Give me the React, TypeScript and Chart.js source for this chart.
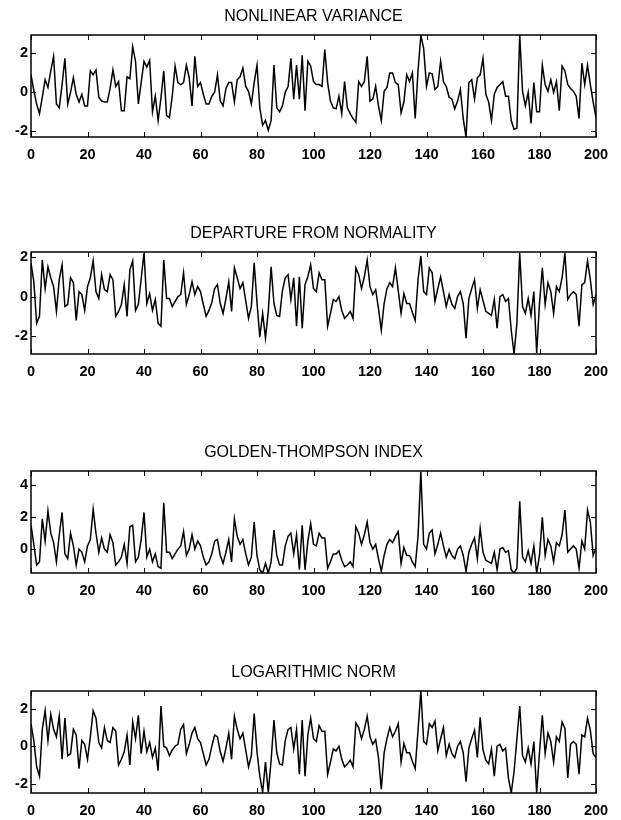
import React, { useEffect, useRef } from "react";
import { Chart, registerables } from "chart.js";

Chart.register(...registerables);

const xTicks = [0, 20, 40, 60, 80, 100, 120, 140, 160, 180, 200];

const titles = [
  "NONLINEAR VARIANCE",
  "DEPARTURE FROM NORMALITY",
  "GOLDEN-THOMPSON INDEX",
  "LOGARITHMIC NORM",
];

const nonlinearVariance = [
  0.9, 0.1, -0.6, -1.1, -0.25, 0.65, 0.25, 1.1, 1.85, -0.6,
  -0.8, 0.4, 1.75, -0.6, 0.0, 0.75, -0.1, -0.5, -0.1, -0.7,
  -0.7, 1.1, 0.9, 1.15, -0.25, -0.45, -0.5, -0.5, 0.2, 1.15,
  0.3, 0.55, -0.95, -0.95, 0.8, 0.7, 2.35, 1.6, -0.6, 0.5,
  1.6, 1.3, 1.65, -1.0, -0.2, -1.45, -0.3, 1.1, -1.2, -1.3,
  -0.2, 1.35, 0.5, 0.4, 0.5, 1.4, 0.75, -0.7, 1.85, 0.3,
  0.5, -0.1, -0.6, -0.6, -0.2, 0.0, 0.9, -0.45, -0.7, 0.2,
  0.5, 0.5, -0.5, 0.65, 0.8, 1.25, 0.3, 0.05, -0.6, 0.5,
  1.4, -0.8, -1.7, -1.45, -1.95, -1.45, 1.4, -0.8, -1.0, -0.7,
  0.0, 0.3, 1.75, -0.35, 1.4, -0.35, 1.9, -0.95, 1.6, 1.35,
  0.55, 0.4, 0.4, 0.3, 2.2, 0.5, -0.45, -0.8, -0.85, -0.2,
  -1.1, 0.55, -0.8, -1.1, -1.35, -1.55, 0.55, 0.3, 0.55, 1.85,
  -0.45, -0.35, 0.3, -0.7, -1.45, 0.05, 0.25, 1.0, 1.0, 0.5,
  0.4, -1.05, -0.5, 0.9, 0.55, 1.0, -1.35, 1.1, 2.95, 2.25,
  0.3, 1.0, 0.95, 0.15, 0.3, 1.6, 0.55, 0.3, -0.25, -0.35,
  -0.85, -0.45, 0.15, -1.35, -2.3, 0.5, 0.65, -0.35, 0.75, 0.9,
  1.75, -0.1, -0.5, -1.45, -0.1, 0.25, 0.4, 0.55, -0.2, -0.2,
  -1.45, -1.9, -1.85, 2.95, 0.05, -0.7, 0.0, -1.6, 0.5, -1.0,
  -1.0, 1.4, 0.4, 0.05, 0.65, 0.0, 0.55, -0.95, 1.35, 1.1,
  0.4, 0.2, 0.05, -0.2, -1.35, 1.5, 0.4, 1.4, 0.4, -0.5,
  -1.3,
];

const departureFromNormality = [
  1.7, 0.75, -1.35, -1.0, 1.85, 0.4, 1.5, 0.95, 0.5, -0.75,
  0.85, 1.6, -0.5, -0.4, 0.95, 0.7, -1.2, 0.25, 0.1, -0.7,
  0.5, 0.95, 1.8, 0.25, -0.1, 1.1, 0.35, 0.25, 1.1, 0.85,
  -1.0, -0.75, -0.4, 0.6, -1.0, 1.35, 1.8, -0.7, -0.4, 0.9,
  2.2, -0.35, 0.15, -0.7, -0.15, -1.35, -1.5, 1.85, -0.1, -0.1,
  -0.5, -0.25, 0.0, 0.1, 1.2, -0.4, 0.1, 0.75, 0.1, 0.5,
  0.25, -0.4, -1.0, -0.7, -0.3, 0.4, 0.6, -0.35, -0.85, -0.1,
  0.75, -0.75, 1.45, 0.95, 0.4, 0.7, -0.2, -1.1, -0.5, 1.7,
  -0.3, -2.05, -0.85, -2.1, -0.75, 1.5, -0.35, -0.95, -1.0, 0.3,
  0.95, 1.1, -0.15, 0.95, -1.5, 1.0, -1.6, 0.6, 1.0, 1.6,
  0.4, 0.25, 1.2, 0.85, 0.85, -1.5, -0.85, -0.15, -0.25, 0.0,
  -0.7, -1.1, -0.95, -0.75, -1.1, 1.45, 1.1, 0.4, 1.0, 1.85,
  0.5, 0.1, 0.35, -0.6, -1.7, -0.35, 0.4, 0.7, 0.5, 1.45,
  0.3, -0.85, 0.15, -0.35, -0.35, -0.8, -1.2, 0.85, 2.05, 0.25,
  0.1, 1.45, 1.2, -0.25, 0.4, 1.0, 0.25, -0.5, 0.1, -0.4,
  -0.6, 0.0, 0.25, -0.35, -2.1, -0.1, 0.4, 0.85, -0.6, 0.35,
  -0.2, -0.75, -0.85, -0.95, -0.15, -1.6, 0.0, 0.1, -0.25, -0.1,
  -1.7, -2.9, -1.35, 2.2, -0.5, -0.85, -0.1, -0.95, 0.25, -2.85,
  -0.35, 1.45, -0.4, 0.7, 0.25, -0.85, 0.5, 0.25, 0.95, 2.2,
  -0.15, 0.1, 0.25, 0.1, -1.5, 0.6, 0.7, 1.8, 0.85, -0.4,
  0.1,
];

const goldenThompsonIndex = [
  1.5, 0.3, -1.0, -0.8, 1.9, 0.5, 2.4, 1.0, 0.4, -0.8,
  0.9, 2.3, -0.3, -0.6, 1.0, 0.2, -1.0, 0.0, -0.2, -0.8,
  0.2, 0.6, 2.5, 1.0, -0.2, 0.7, 0.0, -0.2, 0.9, 0.4,
  -1.0, -0.8, -0.5, 0.3, -0.9, 1.4, 1.5, -0.8, -0.5, 0.6,
  2.3, -0.5, 0.0, -0.8, -0.3, -1.1, -1.2, 2.9, -0.2, -0.2,
  -0.6, -0.3, 0.0, 0.2, 1.1, -0.4, 0.0, 0.9, 0.0, 0.5,
  0.2, -0.5, -1.0, -0.8, -0.3, 0.5, 0.6, -0.4, -0.9, -0.2,
  0.6, -0.8, 1.9, 0.8, 0.3, 0.6, -0.3, -1.0, -0.5, 1.7,
  -0.4, -1.3, -1.5, -0.9, -1.5, -0.8, 1.2, -0.4, -1.0, -1.0,
  0.2, 0.8, 1.0, -0.3, 0.9, -1.3, 1.5, -1.3, 0.5, 1.6,
  0.3, 0.2, 1.0, 0.7, 0.7, -1.2, -0.8, -0.3, -0.3, -0.1,
  -0.7, -1.1, -1.0, -0.8, -1.1, 1.4, 1.0, 0.3, 0.9, 1.7,
  0.4, 0.0, 0.3, -0.6, -1.4, -0.4, 0.3, 0.6, 0.4, 0.8,
  1.1, -0.9, 0.1, -0.4, -0.4, -0.8, -1.1, 0.8, 4.85, 0.3,
  0.0, 1.0, 1.2, -0.3, 0.3, 1.0, 0.2, -0.5, 0.0, -0.4,
  -0.6, 0.0, 0.2, -0.4, -1.4, -0.2, 0.3, 0.7, -0.6, 1.3,
  -0.2, -0.7, -0.8, -0.9, -0.2, -1.3, 0.0, 0.1, -0.2, -0.1,
  -1.3, -1.5, -1.2, 3.0, -0.5, -0.8, -0.1, -0.9, 0.2, -1.5,
  -0.4, 2.0, -0.4, 0.6, 0.2, -0.8, 0.4, 0.2, 0.9, 2.45,
  -0.2, 0.0, 0.2, 0.0, -1.2, 0.5, 0.0, 2.45, 1.7, -0.4,
  0.1,
];

const logarithmicNorm = [
  1.2, 0.3, -1.1, -1.6, 0.9, 1.9, 0.3, 1.7, 0.9, 0.5,
  1.6, -0.7, 1.5, -0.5, -0.4, 0.9, 0.6, -1.2, 0.3, 0.1,
  -0.7, 0.5, 1.9, 1.5, 0.2, -0.1, 1.0, 0.3, 0.2, 1.0,
  0.8, -1.0, -0.7, -0.3, 0.6, -1.0, 1.3, 0.4, 1.65, -0.4,
  0.8, -0.3, 0.2, -0.6, -0.1, -1.3, 2.15, 0.0, -0.1, -0.5,
  -0.2, 0.0, 0.1, 0.9, 1.15, -0.4, 0.1, 0.7, 1.0, 0.4,
  0.2, -0.4, -1.0, -0.7, 0.0, 0.6, 0.5, -0.3, -0.8, -0.1,
  0.7, -0.7, 1.6, 0.9, 0.4, 0.7, -0.2, -1.1, -0.5, 1.75,
  -0.3, -1.6, -2.45, -0.85, -2.45, -0.75, 1.4, -0.35, -0.95, -1.0,
  0.3, 0.9, 1.0, -0.15, 0.9, -1.5, 1.4, -1.6, 0.6, 1.5,
  0.4, 0.25, 1.1, 0.8, 0.8, -1.5, -0.85, -0.15, -0.25, 0.0,
  -0.7, -1.1, -0.95, -0.75, -1.1, 1.25, 1.0, 0.4, 0.9, 1.6,
  0.5, 0.1, 0.35, -0.6, -2.3, -0.35, 0.4, 1.0, 0.5, 0.8,
  1.2, -0.85, 0.15, -0.35, -0.35, -0.8, -1.2, 0.85, 2.95, 0.25,
  0.1, 1.2, 1.0, 1.35, -0.25, 0.4, 1.0, -0.5, 0.1, -0.4,
  -0.6, 0.0, 0.25, -0.35, -1.9, -0.1, 0.4, 0.85, -0.6, 1.55,
  -0.2, -0.75, -0.95, -0.15, -1.6, 0.0, 0.1, -0.25, -0.1, -1.7,
  -2.5, -1.35, 0.4, 2.15, -0.5, -0.85, -0.1, -0.95, 0.25, -2.5,
  -0.35, 1.65, -0.4, 0.7, 0.25, -0.85, 0.5, 0.25, 1.3, 0.95,
  -1.7, 0.1, 0.25, 0.1, -1.5, 0.6, 0.5, 1.5, 0.85, -0.4,
  -0.6,
];

const seriesList = [nonlinearVariance, departureFromNormality, goldenThompsonIndex, logarithmicNorm];
const yTickSets = [[-2, 0, 2], [-2, 0, 2], [0, 2, 4], [-2, 0, 2]];
const yMins = [-2.3, -2.9, -1.5, -2.5];
const yMaxs = [2.95, 2.25, 4.9, 2.95];

const CANVAS_W = 621;
const CANVAS_H = 164;
const panelTops = [0, 217, 436, 656];
const FONT = '"Liberation Sans", Arial, Helvetica, sans-serif';

function Panel({ index }: { index: number }) {
  const ref = useRef<HTMLCanvasElement | null>(null);
  useEffect(() => {
    if (!ref.current) return;
    const values = seriesList[index];
    const title = titles[index];
    const yTicks = yTickSets[index];
    const framePlugin = {
      id: "frameAndTitle",
      afterDraw(chart: any) {
        const { ctx, chartArea: a, scales } = chart;
        ctx.save();
        ctx.strokeStyle = "#000";
        ctx.lineWidth = 1;
        const L = 5;
        ctx.beginPath();
        for (const t of scales.x.ticks) {
          const px = Math.round(scales.x.getPixelForValue(t.value)) + 0.5;
          ctx.moveTo(px, a.bottom);
          ctx.lineTo(px, a.bottom - L);
          ctx.moveTo(px, a.top);
          ctx.lineTo(px, a.top + L);
        }
        for (const t of scales.y.ticks) {
          const py = Math.round(scales.y.getPixelForValue(t.value)) + 0.5;
          ctx.moveTo(a.left, py);
          ctx.lineTo(a.left + L, py);
          ctx.moveTo(a.right, py);
          ctx.lineTo(a.right - L, py);
        }
        ctx.stroke();
        ctx.lineWidth = 1.5;
        ctx.strokeRect(a.left, a.top, a.right - a.left, a.bottom - a.top);
        ctx.fillStyle = "#000";
        ctx.font = "16px " + FONT;
        ctx.textAlign = "center";
        ctx.textBaseline = "middle";
        ctx.fillText(title, (a.left + a.right) / 2, a.top - 18);
        ctx.restore();
      },
    };
    const chart = new Chart(ref.current, {
      type: "line",
      data: {
        datasets: [
          {
            data: values.map((v, i) => ({ x: i, y: v })),
            borderColor: "#000",
            borderWidth: 1.5,
            pointRadius: 0,
            tension: 0,
            fill: false,
          },
        ],
      },
      options: {
        animation: false,
        responsive: false,
        events: [],
        layout: { padding: { top: 35, right: 25, left: 0, bottom: 0 } },
        plugins: { legend: { display: false }, tooltip: { enabled: false }, title: { display: false } },
        scales: {
          x: {
            type: "linear",
            min: 0,
            max: 200,
            grid: { display: false, drawTicks: false },
            border: { display: false },
            afterBuildTicks: (axis: any) => {
              axis.ticks = xTicks.map((v) => ({ value: v }));
            },
            afterFit: (axis: any) => {
              axis.height = 27;
            },
            ticks: {
              color: "#000",
              padding: 9,
              maxRotation: 0,
              autoSkip: false,
              font: { family: FONT, size: 14.5, weight: "bold" },
            },
          },
          y: {
            type: "linear",
            min: yMins[index],
            max: yMaxs[index],
            grid: { display: false, drawTicks: false },
            border: { display: false },
            afterBuildTicks: (axis: any) => {
              axis.ticks = yTicks.map((v) => ({ value: v }));
            },
            afterFit: (axis: any) => {
              axis.width = 31;
            },
            ticks: {
              color: "#000",
              padding: 3,
              autoSkip: false,
              font: { family: FONT, size: 14.5, weight: "bold" },
            },
          },
        },
      },
      plugins: [framePlugin],
    } as any);
    return () => chart.destroy();
  }, [index]);
  return (
    <canvas
      ref={ref}
      width={CANVAS_W}
      height={CANVAS_H}
      style={{ position: "absolute", left: 0, top: panelTops[index], width: CANVAS_W, height: CANVAS_H, display: "block" }}
    />
  );
}

export default function App() {
  return (
    <div style={{ position: "absolute", left: 0, top: 0, width: CANVAS_W, height: 820, background: "#fff" }}>
      {[0, 1, 2, 3].map((i) => (
        <Panel key={i} index={i} />
      ))}
    </div>
  );
}
